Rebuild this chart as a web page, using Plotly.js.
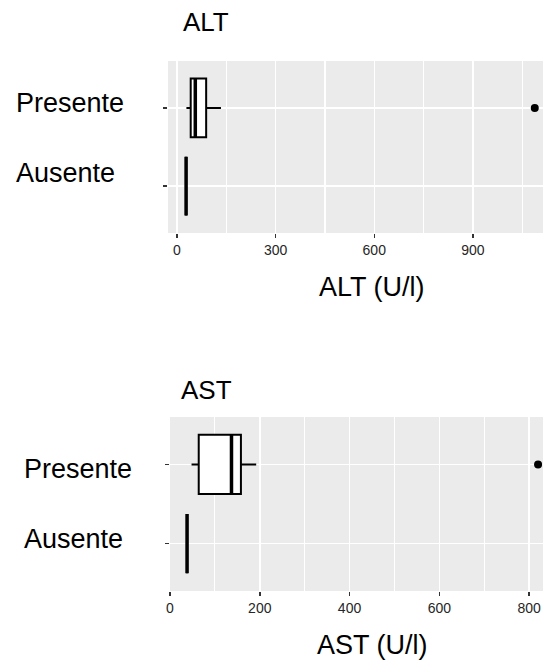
<!DOCTYPE html>
<html>
<head>
<meta charset="utf-8">
<script src="https://cdn.plot.ly/plotly-3.0.1.min.js"></script>
<style>
  html, body { margin: 0; padding: 0; background: #ffffff; }
  #chart { width: 543px; height: 661px; }
</style>
</head>
<body>
<div id="chart"></div>
<script>
// Groups (bottom to top)
const groups = ['Ausente', 'Presente'];

// ALT (U/l) box statistics per group
const altLower  = [28, 29];
const altQ1     = [28, 42];
const altMedian = [28, 56];
const altQ3     = [28, 89];
const altUpper  = [28, 134];
const altOutlierGroup = ['Presente'];
const altOutliers     = [1088];

// AST (U/l) box statistics per group
const astLower  = [38, 48];
const astQ1     = [38, 64];
const astMedian = [38, 137];
const astQ3     = [38, 158];
const astUpper  = [38, 192];
const astOutlierGroup = ['Presente'];
const astOutliers     = [820];

// Axis ticks
const altTickStep = 300, altMinorStep = 150;
const astTickStep = 200, astMinorStep = 100;

const FONT = 'Liberation Sans, Arial, Helvetica, sans-serif';
const BOX_W = 0.75;

function boxTraces(lo, q1, med, q3, hi, outGroup, outVals, xa, ya) {
  return [
    {
      type: 'box', orientation: 'h', y: groups,
      lowerfence: lo, q1: q1, median: med, q3: q3, upperfence: hi,
      width: BOX_W, whiskerwidth: 0, boxpoints: false,
      fillcolor: '#ffffff', line: { color: '#000000', width: 2 },
      xaxis: xa, yaxis: ya, hoverinfo: 'skip', showlegend: false
    },
    // heavier median stroke
    {
      type: 'box', orientation: 'h', y: groups,
      lowerfence: med, q1: med, median: med, q3: med, upperfence: med,
      width: BOX_W, whiskerwidth: 0, boxpoints: false,
      fillcolor: 'rgba(0,0,0,0)', line: { color: '#000000', width: 3.5 },
      xaxis: xa, yaxis: ya, hoverinfo: 'skip', showlegend: false
    },
    {
      type: 'scatter', mode: 'markers', x: outVals, y: outGroup,
      marker: { color: '#000000', size: 8 },
      xaxis: xa, yaxis: ya, hoverinfo: 'skip', showlegend: false
    }
  ];
}

const data = [].concat(
  boxTraces(altLower, altQ1, altMedian, altQ3, altUpper, altOutlierGroup, altOutliers, 'x', 'y'),
  boxTraces(astLower, astQ1, astMedian, astQ3, astUpper, astOutlierGroup, astOutliers, 'x2', 'y2')
);

function xAxis(domain, range, step, minorStep, anchor) {
  return {
    domain: domain, range: range, anchor: anchor,
    tick0: 0, dtick: step,
    ticks: 'outside', ticklen: 4, tickwidth: 1.5, tickcolor: '#333333',
    tickfont: { family: FONT, size: 14, color: '#262626' },
    showgrid: true, gridcolor: '#ffffff', gridwidth: 1.5,
    minor: { dtick: minorStep, tick0: 0, showgrid: true, gridcolor: '#ffffff', gridwidth: 1.2 },
    zeroline: false, showline: false, fixedrange: true
  };
}

function yAxis(domain, anchor) {
  return {
    domain: domain, anchor: anchor,
    type: 'category', categoryorder: 'array', categoryarray: groups,
    range: [-0.6, 1.6],
    ticks: 'outside', ticklen: 4, tickwidth: 1.5, tickcolor: '#333333',
    showticklabels: false,
    showgrid: true, gridcolor: '#ffffff', gridwidth: 1.5,
    zeroline: false, showline: false, fixedrange: true
  };
}

const W = 543, H = 661;
const py = v => 1 - v / H;

const labelFont = { family: FONT, size: 27, color: '#000000' };

function groupLabel(text, idx, yref, xpx, shift) {
  return {
    text: text, xref: 'paper', x: xpx / W, xanchor: 'left',
    yref: yref, y: idx, yanchor: 'middle', yshift: shift,
    showarrow: false, font: labelFont
  };
}

const annotations = [
  // panel titles
  { text: 'ALT', xref: 'paper', yref: 'paper', x: 181 / W, y: py(22), xanchor: 'left', yanchor: 'middle',
    showarrow: false, font: { family: FONT, size: 26, color: '#000000' } },
  { text: 'AST', xref: 'paper', yref: 'paper', x: 179 / W, y: py(390), xanchor: 'left', yanchor: 'middle',
    showarrow: false, font: { family: FONT, size: 26, color: '#000000' } },
  // axis titles
  { text: 'ALT (U/l)', xref: 'paper', yref: 'paper', x: 371.5 / W, y: py(287), xanchor: 'center', yanchor: 'middle',
    showarrow: false, font: labelFont },
  { text: 'AST (U/l)', xref: 'paper', yref: 'paper', x: 372.5 / W, y: py(645), xanchor: 'center', yanchor: 'middle',
    showarrow: false, font: labelFont },
  // group labels
  groupLabel(groups[1], 1, 'y', 14, 5),
  groupLabel(groups[0], 0, 'y', 14, 13),
  groupLabel(groups[1], 1, 'y2', 22, -5),
  groupLabel(groups[0], 0, 'y2', 22, 5)
];

const layout = {
  width: W, height: H,
  margin: { l: 0, r: 0, t: 0, b: 0, pad: 0 },
  paper_bgcolor: '#ffffff', plot_bgcolor: '#ebebeb',
  showlegend: false, boxmode: 'overlay',
  font: { family: FONT, color: '#000000' },
  xaxis:  xAxis([168 / W, 1], [-27, 1113], altTickStep, altMinorStep, 'y'),
  yaxis:  yAxis([py(233), py(61)], 'x'),
  xaxis2: xAxis([170 / W, 1], [0, 831], astTickStep, astMinorStep, 'y2'),
  yaxis2: yAxis([py(591), py(417)], 'x2'),
  annotations: annotations
};

Plotly.newPlot('chart', data, layout, { staticPlot: true, displayModeBar: false });
</script>
</body>
</html>
